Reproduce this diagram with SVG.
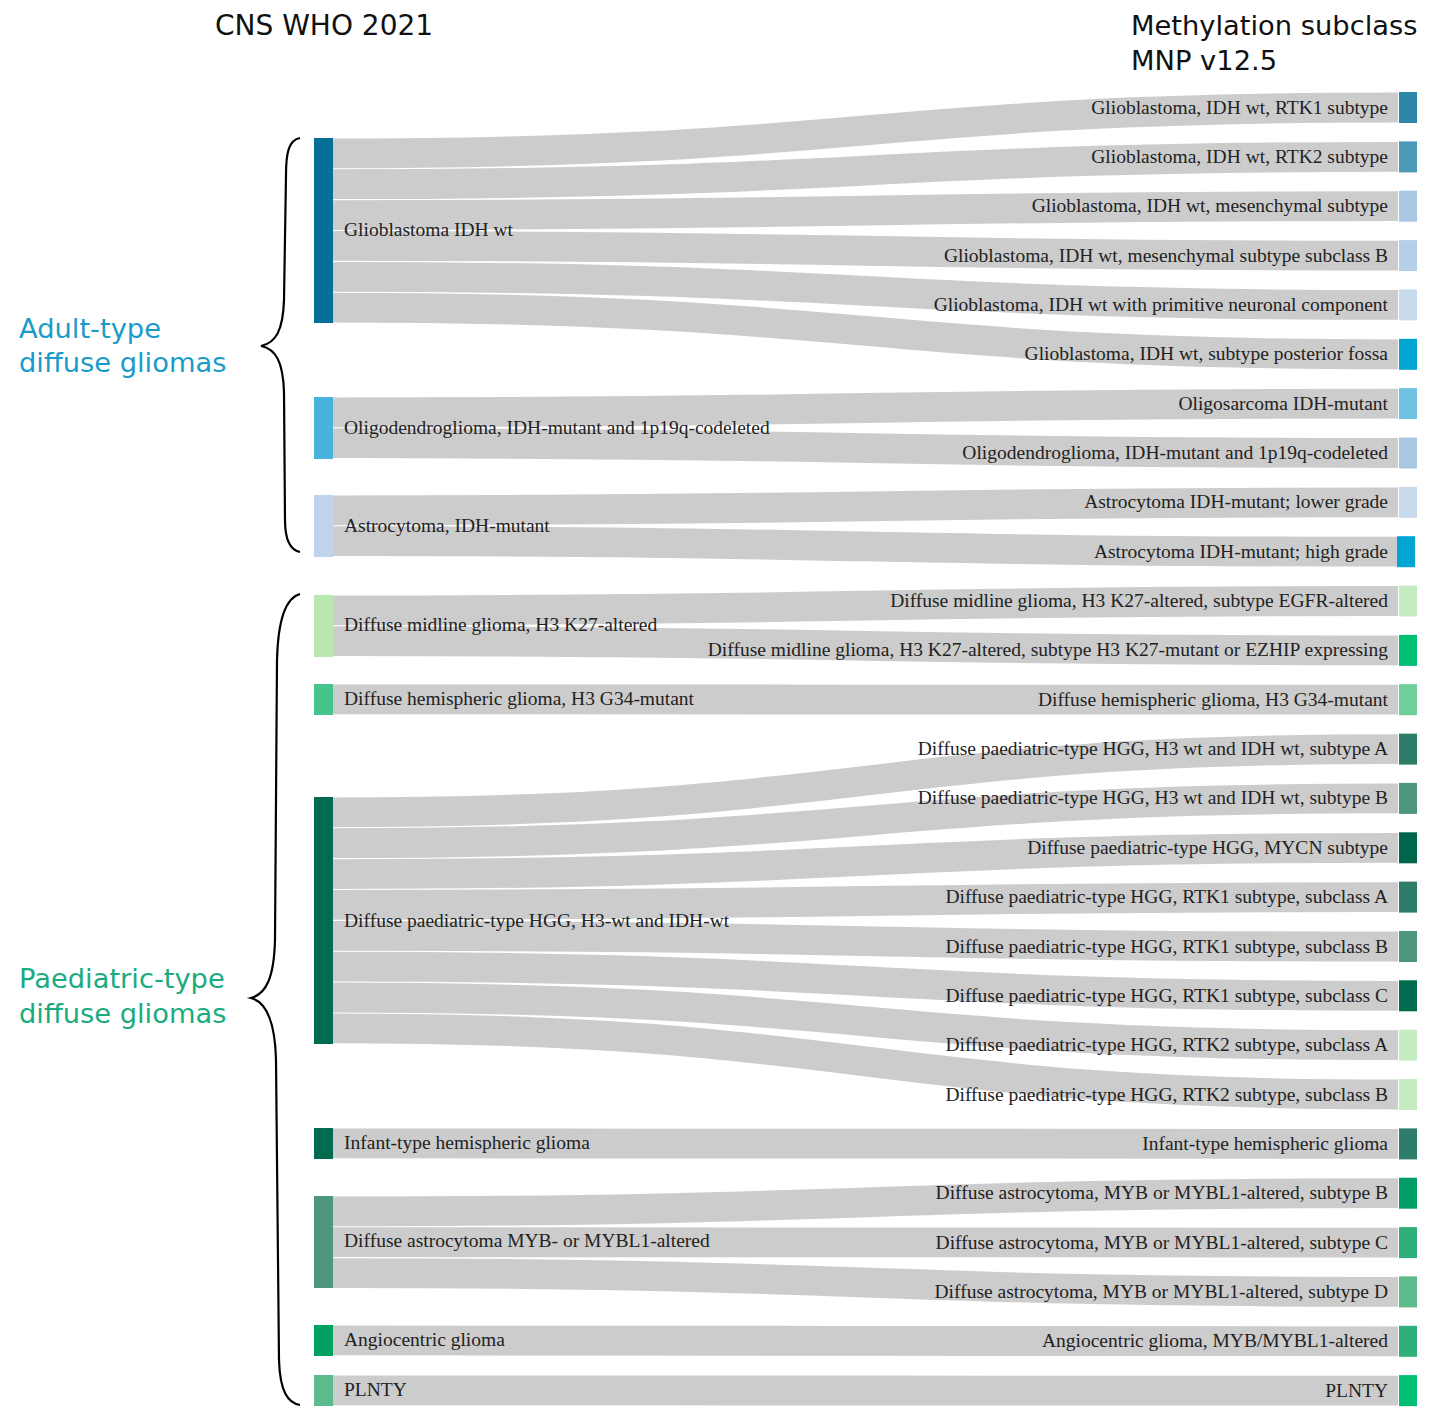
<svg xmlns="http://www.w3.org/2000/svg" width="1434" height="1427" viewBox="0 0 1434 1427">
<style>
.lk{fill:none;stroke:#cccccc;stroke-width:29.8}
.lab{font-family:"Liberation Serif","Times New Roman",serif;font-size:19.5px;fill:#222}
.r{text-anchor:end}
.hd{font-family:"DejaVu Sans",Verdana,sans-serif;font-size:28px;fill:#111}
.hd2{font-size:27.3px}
.grp{font-family:"DejaVu Sans",Verdana,sans-serif;font-size:27.3px}
.brace{fill:none;stroke:#000;stroke-width:2.2}
</style>
<rect width="1434" height="1427" fill="#fff"/>
<g id="headers">
<text class="hd" x="215" y="35">CNS WHO 2021</text>
<text class="hd hd2" x="1131" y="35">Methylation subclass</text>
<text class="hd hd2" x="1131" y="70">MNP v12.5</text>
</g>
<g id="group-adult">
<path class="brace" d="M300,138 C289,140 286,152 286,175 L284,300 C283,330 276,343 261,346 C276,349 283,362 284,392 L285,520 C285,540 290,550 300,552"/>
<text class="grp" x="19" y="338" fill="#1a9bc9">Adult-type</text>
<text class="grp" x="19" y="372" fill="#1a9bc9">diffuse gliomas</text>
</g>
<g id="group-paediatric">
<path class="brace" d="M300,594 C285,598 278,620 277,660 L275,940 C274,978 266,994 251,998 C266,1002 275,1020 276,1060 L279,1360 C280,1392 288,1403 300,1405"/>
<text class="grp" x="19" y="988" fill="#1aab7f">Paediatric-type</text>
<text class="grp" x="19" y="1023" fill="#1aab7f">diffuse gliomas</text>
</g>
<g id="connectors">
<path class="lk" d="M333,153.4 C865.5,153.4 865.5,107.5 1398,107.5"/>
<path class="lk" d="M333,184.2 C865.5,184.2 865.5,156.9 1398,156.9"/>
<path class="lk" d="M333,215.1 C865.5,215.1 865.5,206.2 1398,206.2"/>
<path class="lk" d="M333,245.9 C865.5,245.9 865.5,255.6 1398,255.6"/>
<path class="lk" d="M333,276.8 C865.5,276.8 865.5,304.9 1398,304.9"/>
<path class="lk" d="M333,307.6 C865.5,307.6 865.5,354.3 1398,354.3"/>
<path class="lk" d="M333,412.4 C865.5,412.4 865.5,403.6 1398,403.6"/>
<path class="lk" d="M333,443.2 C865.5,443.2 865.5,453.0 1398,453.0"/>
<path class="lk" d="M333,510.4 C865.5,510.4 865.5,502.3 1398,502.3"/>
<path class="lk" d="M333,541.2 C865.5,541.2 865.5,551.7 1398,551.7"/>
<path class="lk" d="M333,610.4 C865.5,610.4 865.5,601.0 1398,601.0"/>
<path class="lk" d="M333,641.2 C865.5,641.2 865.5,650.4 1398,650.4"/>
<path class="lk" d="M333,699.4 C865.5,699.4 865.5,699.7 1398,699.7"/>
<path class="lk" d="M333,812.4 C865.5,812.4 865.5,749.1 1398,749.1"/>
<path class="lk" d="M333,843.2 C865.5,843.2 865.5,798.4 1398,798.4"/>
<path class="lk" d="M333,874.1 C865.5,874.1 865.5,847.8 1398,847.8"/>
<path class="lk" d="M333,904.9 C865.5,904.9 865.5,897.1 1398,897.1"/>
<path class="lk" d="M333,935.8 C865.5,935.8 865.5,946.5 1398,946.5"/>
<path class="lk" d="M333,966.6 C865.5,966.6 865.5,995.8 1398,995.8"/>
<path class="lk" d="M333,997.5 C865.5,997.5 865.5,1045.2 1398,1045.2"/>
<path class="lk" d="M333,1028.3 C865.5,1028.3 865.5,1094.5 1398,1094.5"/>
<path class="lk" d="M333,1143.4 C865.5,1143.4 865.5,1143.9 1398,1143.9"/>
<path class="lk" d="M333,1211.4 C865.5,1211.4 865.5,1193.2 1398,1193.2"/>
<path class="lk" d="M333,1242.2 C865.5,1242.2 865.5,1242.6 1398,1242.6"/>
<path class="lk" d="M333,1273.1 C865.5,1273.1 865.5,1291.9 1398,1291.9"/>
<path class="lk" d="M333,1340.4 C865.5,1340.4 865.5,1341.3 1398,1341.3"/>
<path class="lk" d="M333,1390.4 C865.5,1390.4 865.5,1390.6 1398,1390.6"/>
</g>
<g id="n-gbm"><rect x="314" y="138" width="19" height="185" fill="#066f97"/><text class="lab" x="344" y="236">Glioblastoma IDH wt</text></g>
<g id="n-oligo"><rect x="314" y="397" width="19" height="62" fill="#4ab3dc"/><text class="lab" x="344" y="434">Oligodendroglioma, IDH-mutant and 1p19q-codeleted</text></g>
<g id="n-astro"><rect x="314" y="495" width="19" height="62" fill="#c0d3eb"/><text class="lab" x="344" y="532">Astrocytoma, IDH-mutant</text></g>
<g id="n-dmg"><rect x="314" y="595" width="19" height="62" fill="#b8e8b0"/><text class="lab" x="344" y="631">Diffuse midline glioma, H3 K27-altered</text></g>
<g id="n-dhg"><rect x="314" y="684" width="19" height="31" fill="#47c48b"/><text class="lab" x="344" y="705">Diffuse hemispheric glioma, H3 G34-mutant</text></g>
<g id="n-pedhgg"><rect x="314" y="797" width="19" height="247" fill="#006b4e"/><text class="lab" x="344" y="927">Diffuse paediatric-type HGG, H3-wt and IDH-wt</text></g>
<g id="n-infant"><rect x="314" y="1128" width="19" height="31" fill="#006b4e"/><text class="lab" x="344" y="1149">Infant-type hemispheric glioma</text></g>
<g id="n-myb"><rect x="314" y="1196" width="19" height="92" fill="#4e9580"/><text class="lab" x="344" y="1247">Diffuse astrocytoma MYB- or MYBL1-altered</text></g>
<g id="n-angio"><rect x="314" y="1325" width="19" height="31" fill="#00a060"/><text class="lab" x="344" y="1346">Angiocentric glioma</text></g>
<g id="n-plnty"><rect x="314" y="1375" width="19" height="31" fill="#5cba8c"/><text class="lab" x="344" y="1396">PLNTY</text></g>
<g id="r0"><rect x="1399" y="92" width="18" height="31" fill="#2d87a8"/><text class="lab r" x="1388" y="113.5">Glioblastoma, IDH wt, RTK1 subtype</text></g>
<g id="r1"><rect x="1399" y="141.4" width="18" height="31" fill="#4b9ab8"/><text class="lab r" x="1388" y="162.9">Glioblastoma, IDH wt, RTK2 subtype</text></g>
<g id="r2"><rect x="1399" y="190.7" width="18" height="31" fill="#a9c7e2"/><text class="lab r" x="1388" y="212.2">Glioblastoma, IDH wt, mesenchymal subtype</text></g>
<g id="r3"><rect x="1399" y="240.1" width="18" height="31" fill="#b5cfe8"/><text class="lab r" x="1388" y="261.6">Glioblastoma, IDH wt, mesenchymal subtype subclass B</text></g>
<g id="r4"><rect x="1399" y="289.4" width="18" height="31" fill="#c7dbec"/><text class="lab r" x="1388" y="310.9">Glioblastoma, IDH wt with primitive neuronal component</text></g>
<g id="r5"><rect x="1399" y="338.8" width="18" height="31" fill="#00a6d1"/><text class="lab r" x="1388" y="360.3">Glioblastoma, IDH wt, subtype posterior fossa</text></g>
<g id="r6"><rect x="1399" y="388.1" width="18" height="31" fill="#6ec1e1"/><text class="lab r" x="1388" y="409.6">Oligosarcoma IDH-mutant</text></g>
<g id="r7"><rect x="1399" y="437.5" width="18" height="31" fill="#a9c7e2"/><text class="lab r" x="1388" y="459">Oligodendroglioma, IDH-mutant and 1p19q-codeleted</text></g>
<g id="r8"><rect x="1399" y="486.8" width="18" height="31" fill="#c7dbec"/><text class="lab r" x="1388" y="508.3">Astrocytoma IDH-mutant; lower grade</text></g>
<g id="r9"><rect x="1397" y="536.2" width="18" height="31" fill="#00a6d1"/><text class="lab r" x="1388" y="557.7">Astrocytoma IDH-mutant; high grade</text></g>
<g id="r10"><rect x="1399" y="585.5" width="18" height="31" fill="#c4ecc0"/><text class="lab r" x="1388" y="607">Diffuse midline glioma, H3 K27-altered, subtype EGFR-altered</text></g>
<g id="r11"><rect x="1399" y="634.9" width="18" height="31" fill="#00bf73"/><text class="lab r" x="1388" y="656.4">Diffuse midline glioma, H3 K27-altered, subtype H3 K27-mutant or EZHIP expressing</text></g>
<g id="r12"><rect x="1399" y="684.2" width="18" height="31" fill="#6fcf9a"/><text class="lab r" x="1388" y="705.7">Diffuse hemispheric glioma, H3 G34-mutant</text></g>
<g id="r13"><rect x="1399" y="733.6" width="18" height="31" fill="#2e7d68"/><text class="lab r" x="1388" y="755.1">Diffuse paediatric-type HGG, H3 wt and IDH wt, subtype A</text></g>
<g id="r14"><rect x="1399" y="782.9" width="18" height="31" fill="#4e9580"/><text class="lab r" x="1388" y="804.4">Diffuse paediatric-type HGG, H3 wt and IDH wt, subtype B</text></g>
<g id="r15"><rect x="1399" y="832.3" width="18" height="31" fill="#00664a"/><text class="lab r" x="1388" y="853.8">Diffuse paediatric-type HGG, MYCN subtype</text></g>
<g id="r16"><rect x="1399" y="881.6" width="18" height="31" fill="#2e7d68"/><text class="lab r" x="1388" y="903.1">Diffuse paediatric-type HGG, RTK1 subtype, subclass A</text></g>
<g id="r17"><rect x="1399" y="931" width="18" height="31" fill="#4e9580"/><text class="lab r" x="1388" y="952.5">Diffuse paediatric-type HGG, RTK1 subtype, subclass B</text></g>
<g id="r18"><rect x="1399" y="980.3" width="18" height="31" fill="#006b4e"/><text class="lab r" x="1388" y="1001.8">Diffuse paediatric-type HGG, RTK1 subtype, subclass C</text></g>
<g id="r19"><rect x="1399" y="1029.7" width="18" height="31" fill="#c4ecc0"/><text class="lab r" x="1388" y="1051.2">Diffuse paediatric-type HGG, RTK2 subtype, subclass A</text></g>
<g id="r20"><rect x="1399" y="1079" width="18" height="31" fill="#c4ecc0"/><text class="lab r" x="1388" y="1100.5">Diffuse paediatric-type HGG, RTK2 subtype, subclass B</text></g>
<g id="r21"><rect x="1399" y="1128.4" width="18" height="31" fill="#2e7d68"/><text class="lab r" x="1388" y="1149.9">Infant-type hemispheric glioma</text></g>
<g id="r22"><rect x="1399" y="1177.7" width="18" height="31" fill="#009e64"/><text class="lab r" x="1388" y="1199.2">Diffuse astrocytoma, MYB or MYBL1-altered, subtype B</text></g>
<g id="r23"><rect x="1399" y="1227.1" width="18" height="31" fill="#2fb07a"/><text class="lab r" x="1388" y="1248.6">Diffuse astrocytoma, MYB or MYBL1-altered, subtype C</text></g>
<g id="r24"><rect x="1399" y="1276.4" width="18" height="31" fill="#5cba8c"/><text class="lab r" x="1388" y="1297.9">Diffuse astrocytoma, MYB or MYBL1-altered, subtype D</text></g>
<g id="r25"><rect x="1399" y="1325.8" width="18" height="31" fill="#2fb07a"/><text class="lab r" x="1388" y="1347.3">Angiocentric glioma, MYB/MYBL1-altered</text></g>
<g id="r26"><rect x="1399" y="1375.1" width="18" height="31" fill="#00bf73"/><text class="lab r" x="1388" y="1396.6">PLNTY</text></g>
</svg>
